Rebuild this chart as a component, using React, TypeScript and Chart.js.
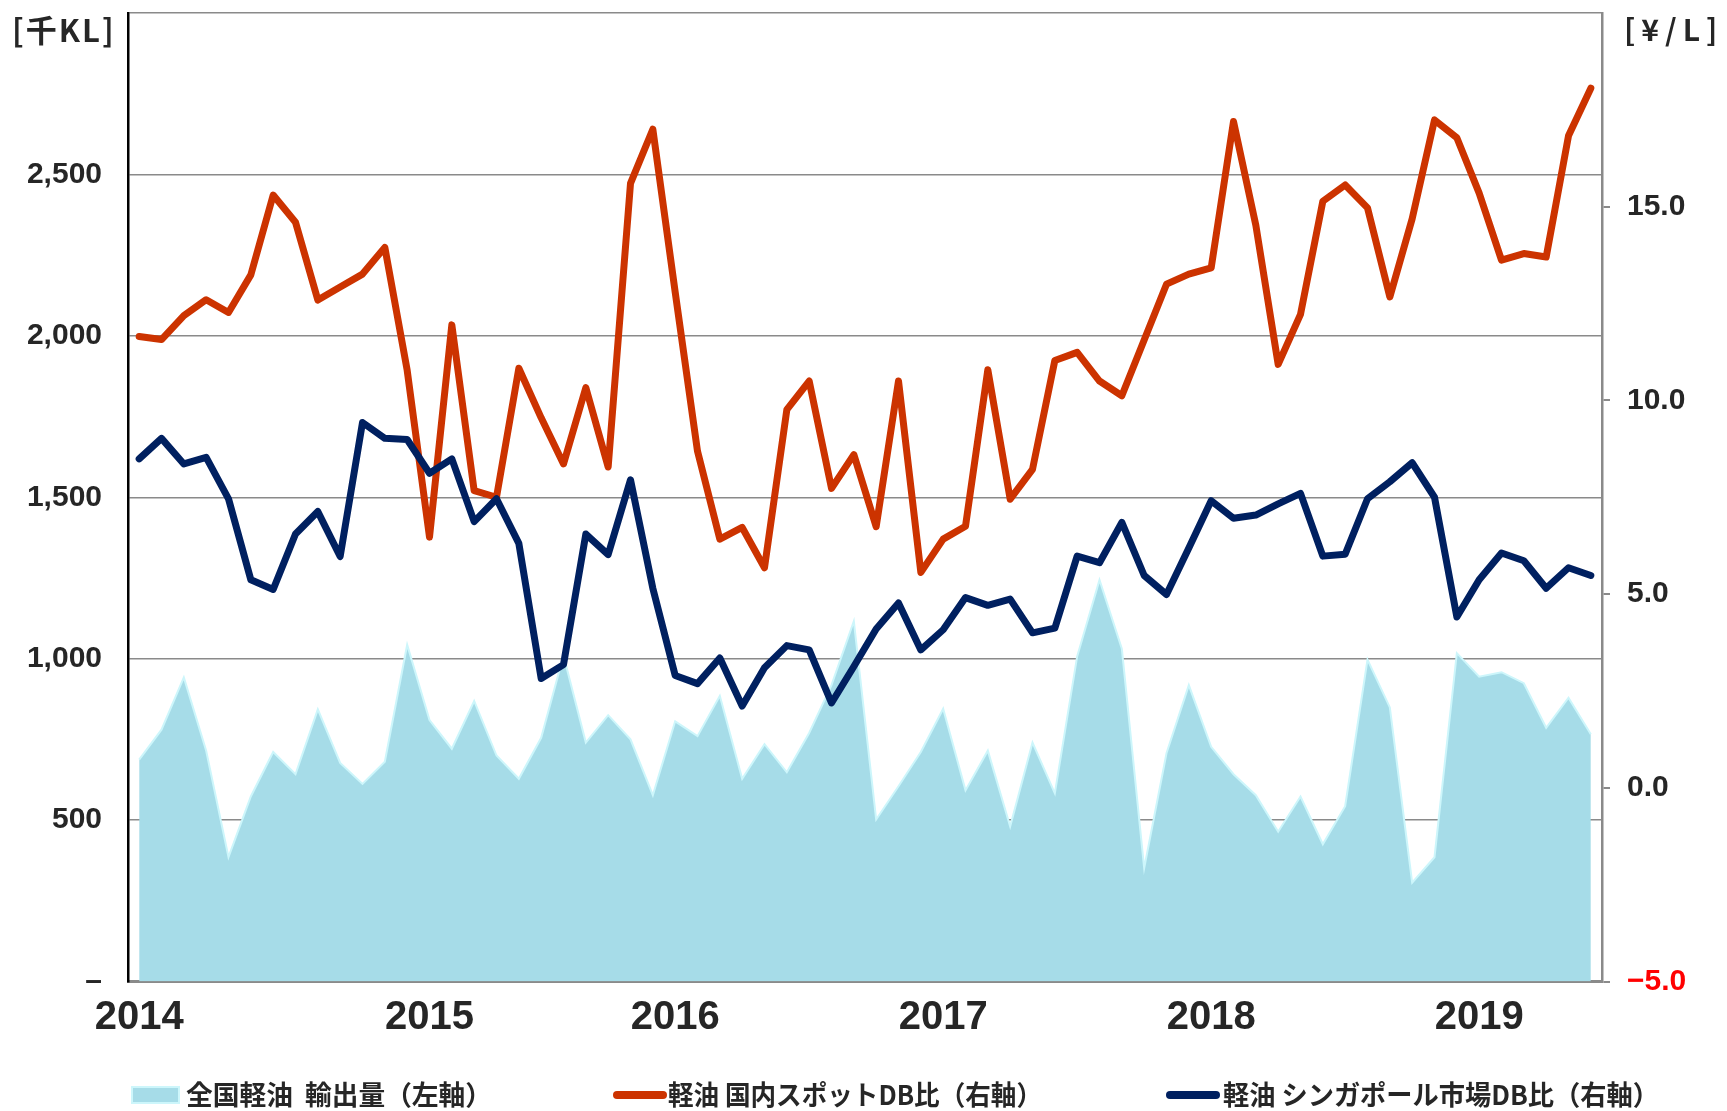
import React, { useEffect, useRef } from 'react';
import { Chart, registerables } from 'chart.js';

Chart.register(...registerables);

const months = [
  '2014/01', '2014/02', '2014/03', '2014/04', '2014/05', '2014/06', '2014/07', '2014/08', '2014/09', '2014/10', '2014/11', '2014/12',
  '2015/01', '2015/02', '2015/03', '2015/04', '2015/05', '2015/06', '2015/07', '2015/08', '2015/09', '2015/10', '2015/11', '2015/12',
  '2016/01', '2016/02', '2016/03', '2016/04', '2016/05', '2016/06', '2016/07', '2016/08', '2016/09', '2016/10', '2016/11', '2016/12',
  '2017/01', '2017/02', '2017/03', '2017/04', '2017/05', '2017/06', '2017/07', '2017/08', '2017/09', '2017/10', '2017/11', '2017/12',
  '2018/01', '2018/02', '2018/03', '2018/04', '2018/05', '2018/06', '2018/07', '2018/08', '2018/09', '2018/10', '2018/11', '2018/12',
  '2019/01', '2019/02', '2019/03', '2019/04', '2019/05', '2019/06',
];

// 全国軽油 輸出量 [千KL] (left axis)
const exportVolume = [
  687, 780, 942, 715, 385, 573, 711, 642, 843, 677, 612, 681,
  1043, 810, 721, 869, 700, 628, 755, 1010, 740, 825, 750, 577,
  806, 760, 885, 628, 735, 648, 770, 918, 1116, 502, 605, 711,
  845, 592, 715, 480, 740, 583, 1007, 1244, 1031, 351, 707, 918,
  727, 642, 577, 464, 573, 425, 543, 997, 849, 306, 385, 1017,
  944, 958, 924, 786, 879, 766,
];

// 軽油 国内スポットDB比 [¥/L] (right axis)
const domesticSpread = [
  11.65, 11.57, 12.19, 12.6, 12.27, 13.24, 15.3, 14.6, 12.59, 12.93, 13.26, 13.95,
  10.78, 6.47, 11.95, 7.67, 7.5, 10.83, 9.55, 8.36, 10.33, 8.28, 15.6, 17.0,
  12.8, 8.69, 6.42, 6.72, 5.68, 9.76, 10.5, 7.73, 8.6, 6.74, 10.5, 5.56,
  6.42, 6.75, 10.79, 7.45, 8.22, 11.03, 11.24, 10.5, 10.12, 11.56, 13.0, 13.26,
  13.42, 17.2, 14.52, 10.93, 12.22, 15.14, 15.56, 14.97, 12.67, 14.69, 17.24, 16.78,
  15.35, 13.62, 13.79, 13.7, 16.83, 18.06,
];

// 軽油 シンガポール市場DB比 [¥/L] (right axis)
const singaporeSpread = [
  8.49, 9.02, 8.36, 8.53, 7.46, 5.37, 5.12, 6.55, 7.13, 5.97, 9.43, 9.02,
  8.99, 8.12, 8.49, 6.87, 7.46, 6.31, 2.82, 3.18, 6.55, 6.02, 7.95, 5.15,
  2.9, 2.69, 3.35, 2.11, 3.1, 3.67, 3.56, 2.19, 3.13, 4.1, 4.77, 3.56,
  4.08, 4.91, 4.71, 4.87, 4.0, 4.12, 5.98, 5.81, 6.85, 5.48, 4.99, 6.19,
  7.41, 6.96, 7.04, 7.33, 7.6, 5.98, 6.03, 7.46, 7.9, 8.39, 7.5, 4.41,
  5.37, 6.06, 5.86, 5.15, 5.68, 5.48,
];

const yearTickIndex = [0, 13, 24, 36, 48, 60];
const yearTickLabels = ['2014', '2015', '2016', '2017', '2018', '2019'];

const seriesLabels = [
  '全国軽油  輸出量（左軸）',
  '軽油 国内スポットDB比（右軸）',
  '軽油 シンガポール市場DB比（右軸）',
];

const leftUnit = '[千KL]';
const rightUnit = '[¥/L]';

const AREA_FILL = '#a6dce8';
const AREA_EDGE = '#cdf6fb';
const RED = '#cc3300';
const NAVY = '#002060';
const GRID = '#8a8a8a';
const TEXT = '#262626';
const CJK = '"Noto Sans CJK JP", "Noto Sans", sans-serif';
const NUM = '"Liberation Sans", Arial, sans-serif';

const legendPlugin = {
  id: 'customLegend',
  afterDraw(chart: any) {
    const ctx = chart.ctx as CanvasRenderingContext2D;
    const y = 1095;
    const layout = [
      { mark: 132, text: 186, maxW: 306 },
      { mark: 613, text: 668, maxW: 374 },
      { mark: 1166, text: 1223, maxW: 436 },
    ];
    ctx.save();
    chart.data.datasets.forEach((ds: any, i: number) => {
      const l = layout[i];
      if (i === 0) {
        ctx.fillStyle = ds.backgroundColor;
        ctx.fillRect(l.mark, y - 8, 47, 16);
        ctx.strokeStyle = AREA_EDGE;
        ctx.lineWidth = 2;
        ctx.strokeRect(l.mark, y - 8, 47, 16);
      } else {
        ctx.strokeStyle = ds.borderColor;
        ctx.lineWidth = 8;
        ctx.lineCap = 'round';
        ctx.beginPath();
        ctx.moveTo(l.mark + 4, y);
        ctx.lineTo(l.mark + 50, y);
        ctx.stroke();
      }
      ctx.fillStyle = TEXT;
      ctx.font = `bold 27px ${CJK}`;
      ctx.textAlign = 'left';
      ctx.textBaseline = 'middle';
      ctx.fillText(ds.label, l.text, y, l.maxW);
    });
    ctx.restore();
  },
};

const unitPlugin = {
  id: 'unitTitles',
  afterDraw(chart: any) {
    const ctx = chart.ctx as CanvasRenderingContext2D;
    ctx.save();
    ctx.fillStyle = TEXT;
    ctx.textBaseline = 'middle';
    ctx.textAlign = 'left';
    ctx.font = `bold 31px ${CJK}`;
    (ctx as any).letterSpacing = '2px';
    ctx.fillText(leftUnit, 12, 30);
    ctx.font = `bold 30px ${CJK}`;
    (ctx as any).letterSpacing = '6px';
    ctx.fillText(rightUnit, 1624, 30);
    ctx.restore();
  },
};

export default function App() {
  const canvasRef = useRef<HTMLCanvasElement | null>(null);

  useEffect(() => {
    if (!canvasRef.current) return;
    const chart = new Chart(canvasRef.current, {
      type: 'line',
      data: {
        labels: months,
        datasets: [
          {
            label: seriesLabels[0],
            data: exportVolume,
            yAxisID: 'y',
            fill: 'origin',
            backgroundColor: AREA_FILL,
            borderColor: AREA_EDGE,
            borderWidth: 2,
            pointRadius: 0,
            tension: 0,
            order: 3,
          },
          {
            label: seriesLabels[1],
            data: domesticSpread,
            yAxisID: 'y1',
            fill: false,
            borderColor: RED,
            backgroundColor: RED,
            borderWidth: 7,
            borderCapStyle: 'round',
            borderJoinStyle: 'round',
            pointRadius: 0,
            tension: 0,
            order: 2,
          },
          {
            label: seriesLabels[2],
            data: singaporeSpread,
            yAxisID: 'y1',
            fill: false,
            borderColor: NAVY,
            backgroundColor: NAVY,
            borderWidth: 7,
            borderCapStyle: 'round',
            borderJoinStyle: 'round',
            pointRadius: 0,
            tension: 0,
            order: 1,
          },
        ],
      },
      options: {
        responsive: false,
        animation: false,
        devicePixelRatio: 1,
        layout: { padding: { top: 13, left: 0, right: 0, bottom: 0 } },
        plugins: {
          legend: { display: false },
          tooltip: { enabled: false },
        },
        scales: {
          x: {
            type: 'category',
            offset: true,
            z: 1,
            grid: { display: false, drawTicks: false },
            border: { display: true, color: GRID, width: 3 },
            ticks: {
              autoSkip: false,
              maxRotation: 0,
              minRotation: 0,
              padding: 12,
              color: TEXT,
              font: { family: '"Liberation Sans Narrow", "Liberation Sans", Arial, sans-serif', weight: 'bold', size: 40 },
              callback: (_v: any, i: number) => {
                const k = yearTickIndex.indexOf(i);
                return k >= 0 ? yearTickLabels[k] : null;
              },
            },
            afterFit: (s: any) => {
              s.height = 129.5;
              s.paddingLeft = 0;
              s.paddingRight = 0;
            },
          },
          y: {
            type: 'linear',
            position: 'left',
            min: 0,
            max: 3000,
            grid: { color: GRID, lineWidth: 1.5, drawTicks: false },
            border: { display: true, color: '#000000', width: 2.5 },
            ticks: {
              stepSize: 500,
              padding: 26,
              color: TEXT,
              font: { family: NUM, weight: 'bold', size: 30 },
              callback: (v: any) => {
                const n = Number(v);
                if (n === 0) return '–';
                if (n === 3000) return '';
                return n.toLocaleString('en-US');
              },
            },
            afterFit: (s: any) => {
              s.width = 128;
              s.paddingTop = 0;
              s.paddingBottom = 0;
            },
          },
          y1: {
            type: 'linear',
            position: 'right',
            min: -5,
            max: 20,
            grid: { drawOnChartArea: false, drawTicks: true, tickLength: 8, color: GRID, lineWidth: 2 },
            border: { display: true, color: GRID, width: 2.5 },
            ticks: {
              stepSize: 5,
              padding: 17,
              font: { family: NUM, weight: 'bold', size: 30 },
              color: (c: any) => (c.tick && c.tick.value === -5 ? '#ff0000' : TEXT),
              callback: (v: any) => {
                const n = Number(v);
                return n < 0 ? '−' + Math.abs(n).toFixed(1) : n.toFixed(1);
              },
            },
            afterBuildTicks: (s: any) => {
              s.ticks = s.ticks.filter((t: any) => t.value !== 20);
            },
            afterFit: (s: any) => {
              s.width = 125;
              s.paddingTop = 0;
              s.paddingBottom = 0;
            },
          },
        },
      } as any,
      plugins: [legendPlugin, unitPlugin],
    });
    return () => chart.destroy();
  }, []);

  return (
    <div style={{ position: 'fixed', left: 0, top: 0, width: 1727, height: 1111, background: '#ffffff' }}>
      <canvas ref={canvasRef} width={1727} height={1111} style={{ display: 'block' }} />
    </div>
  );
}
